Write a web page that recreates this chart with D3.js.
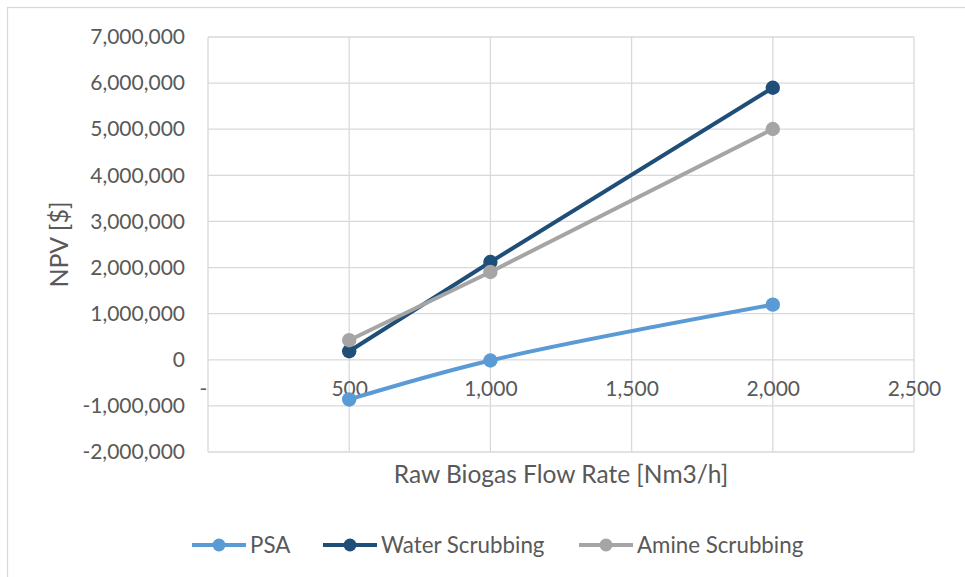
<!DOCTYPE html>
<html><head><meta charset="utf-8">
<script src="https://cdn.jsdelivr.net/npm/d3@7"></script>
<style>body{margin:0;background:#fff} svg{display:block}</style>
</head><body><svg id="c" width="965" height="577"></svg>
<script>
const flowRates = [500, 1000, 2000];
const psa = [-860000, -15000, 1195000];
const waterScrubbing = [185000, 2120000, 5900000];
const amineScrubbing = [425000, 1905000, 5005000];
const seriesNames = ["PSA", "Water Scrubbing", "Amine Scrubbing"];
const seriesColors = ["#5B9BD5", "#1F4E79", "#A5A5A5"];
const xTicks = [0, 500, 1000, 1500, 2000, 2500];
const yTicks = [-2000000, -1000000, 0, 1000000, 2000000, 3000000, 4000000, 5000000, 6000000, 7000000];
const xTitle = "Raw Biogas Flow Rate [Nm3/h]";
const yTitle = "NPV [$]";

const FONT = "Lato, 'Open Sans', sans-serif";
const TXT = "#595959";
const GRID = "#d9d9d9";

const svg = d3.select("#c");
svg.append("rect").attr("x", 7.5).attr("y", 7.5).attr("width", 1000).attr("height", 1000)
  .attr("fill", "#fff").attr("stroke", GRID).attr("stroke-width", 1.3);

const x = d3.scaleLinear().domain([0, 2500]).range([208, 914]);
const y = d3.scaleLinear().domain([-2000000, 7000000]).range([452, 37]);

// gridlines
const g = svg.append("g");
g.selectAll(".hg").data(yTicks).join("line")
  .attr("x1", x(0)).attr("x2", x(2500)).attr("y1", d => y(d)).attr("y2", d => y(d))
  .attr("stroke", GRID).attr("stroke-width", 1.3);
g.selectAll(".vg").data(xTicks).join("line")
  .attr("y1", y(7000000)).attr("y2", y(-2000000)).attr("x1", d => x(d)).attr("x2", d => x(d))
  .attr("stroke", GRID).attr("stroke-width", 1.3);

// y axis labels
const yAxis = d3.axisLeft(y).tickValues(yTicks).tickSize(0).tickPadding(0)
  .tickFormat(d => d3.format(",")(d).replace("−", "-"));
const ya = svg.append("g").attr("transform", "translate(185,0)").call(yAxis);
ya.select(".domain").remove();
ya.selectAll("text").attr("font-family", FONT).attr("font-size", 21).attr("fill", TXT);

// x axis labels (below zero line)
const xAxis = d3.axisBottom(x).tickValues(xTicks).tickSize(0).tickPadding(0)
  .tickFormat(d => d === 0 ? "-" : d3.format(",")(d));
const xa = svg.append("g").attr("transform", `translate(0,${y(0) + 21})`).call(xAxis);
xa.select(".domain").remove();
xa.selectAll("text").attr("font-family", FONT).attr("font-size", 21).attr("fill", TXT);
xa.selectAll(".tick").filter(d => d === 0).select("text").attr("x", -5);

// titles
svg.append("text").attr("transform", `translate(68,${(y(7000000) + y(-2000000)) / 2}) rotate(-90)`)
  .attr("text-anchor", "middle").attr("font-family", FONT).attr("font-size", 25).attr("fill", TXT).text(yTitle);
svg.append("text").attr("x", (x(0) + x(2500)) / 2).attr("y", 483)
  .attr("text-anchor", "middle").attr("font-family", FONT).attr("font-size", 24.5).attr("fill", TXT).text(xTitle);

// series
const series = [psa, waterScrubbing, amineScrubbing].map((vals, i) => ({
  name: seriesNames[i], color: seriesColors[i],
  pts: flowRates.map((f, j) => [f, vals[j]]),
  curve: i === 0 ? d3.curveCatmullRom.alpha(0.5) : d3.curveLinear
}));
series.forEach(s => {
  const line = d3.line().x(d => x(d[0])).y(d => y(d[1])).curve(s.curve);
  svg.append("path").datum(s.pts).attr("d", line).attr("fill", "none")
    .attr("stroke", s.color).attr("stroke-width", 4).attr("stroke-linejoin", "round").attr("stroke-linecap", "round");
  svg.selectAll(null).data(s.pts).join("circle")
    .attr("cx", d => x(d[0])).attr("cy", d => y(d[1])).attr("r", 7.2).attr("fill", s.color);
});

// legend
const legX = [192, 323, 579];
const leg = svg.append("g");
series.forEach((s, i) => {
  const lx = legX[i], ly = 545;
  leg.append("line").attr("x1", lx).attr("x2", lx + 54).attr("y1", ly).attr("y2", ly)
    .attr("stroke", s.color).attr("stroke-width", 4);
  leg.append("circle").attr("cx", lx + 27).attr("cy", ly).attr("r", 6.5).attr("fill", s.color);
  leg.append("text").attr("x", lx + 58).attr("y", ly).attr("dy", "0.35em")
    .attr("font-family", FONT).attr("font-size", 22.3).attr("fill", TXT).text(s.name);
});
</script></body></html>
